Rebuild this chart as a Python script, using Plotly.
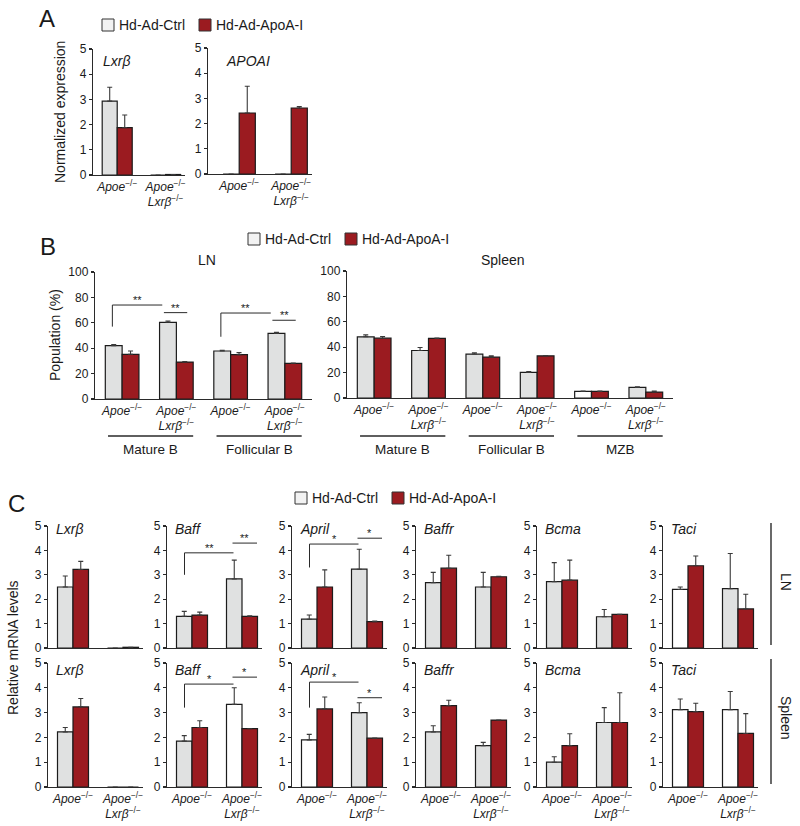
import plotly.graph_objects as go

W, H = 800, 826
RED = "#9b1b20"
GRAY = "#e0e1e1"
WHITE = "#ffffff"
EDGE = "#1c1c1c"
AX = "#2a2a2a"
TXT = "#1a1a1a"
FONT = "Liberation Sans, Arial, sans-serif"

# ---------------- data ----------------
APOE = "<i>Apoe</i><sup>−/−</sup>"
APOE_LXR = "<i>Apoe</i><sup>−/−</sup><br><i>Lxrβ</i><sup>−/−</sup>"
genotypes = [APOE, APOE_LXR]
legend_labels = ["Hd-Ad-Ctrl", "Hd-Ad-ApoA-I"]

# Panel A  (Normalized expression)
a_genes = ["<i>Lxrβ</i>", "<i>APOAI</i>"]
a_ctrl = [[2.93, 0.0], [0.0, 0.0]]
a_ctrl_err = [[0.55, 0.0], [0.0, 0.0]]
a_apoa = [[1.88, 0.02], [2.42, 2.62]]
a_apoa_err = [[0.50, 0.0], [1.06, 0.06]]

# Panel B  (Population %)
b_ln_cells = ["Mature B", "Follicular B"]
b_sp_cells = ["Mature B", "Follicular B", "MZB"]
b_ln_ctrl = [42.0, 60.4, 37.8, 51.7]
b_ln_ctrl_err = [0.8, 1.0, 0.5, 0.8]
b_ln_apoa = [35.2, 29.1, 34.9, 28.1]
b_ln_apoa_err = [2.6, 0.3, 1.6, 0.3]
b_sp_ctrl = [48.2, 37.4, 34.6, 20.2, 5.2, 8.4]
b_sp_ctrl_err = [1.5, 2.4, 1.0, 0.7, 0.2, 0.5]
b_sp_apoa = [47.1, 46.9, 32.2, 33.2, 5.2, 4.7]
b_sp_apoa_err = [1.3, 0.3, 1.0, 0.3, 0.3, 0.8]

# Panel C  (Relative mRNA levels)
c_genes = ["Lxrβ", "Baff", "April", "Baffr", "Bcma", "Taci"]
c_tissues = ["LN", "Spleen"]
c_ln_ctrl = [[2.50, 0.0], [1.30, 2.83], [1.18, 3.23], [2.68, 2.50], [2.72, 1.28], [2.40, 2.43]]
c_ln_ctrl_err = [[0.45, 0.0], [0.20, 0.77], [0.17, 0.82], [0.42, 0.60], [0.78, 0.30], [0.10, 1.44]]
c_ln_apoa = [[3.22, 0.03], [1.35, 1.30], [2.50, 1.08], [3.27, 2.92], [2.78, 1.38], [3.37, 1.60]]
c_ln_apoa_err = [[0.33, 0.0], [0.12, 0.02], [0.70, 0.02], [0.53, 0.02], [0.82, 0.0], [0.40, 0.60]]
c_sp_ctrl = [[2.22, 0.0], [1.85, 3.33], [1.90, 3.00], [2.22, 1.67], [1.00, 2.60], [3.12, 3.12]]
c_sp_ctrl_err = [[0.18, 0.0], [0.22, 0.67], [0.22, 0.40], [0.25, 0.13], [0.22, 0.60], [0.43, 0.73]]
c_sp_apoa = [[3.23, 0.0], [2.40, 2.35], [3.15, 1.97], [3.28, 2.70], [1.67, 2.60], [3.04, 2.16]]
c_sp_apoa_err = [[0.34, 0.0], [0.27, 0.0], [0.48, 0.0], [0.22, 0.0], [0.48, 1.20], [0.34, 0.80]]

# significance: (kind, group_a, group_b, level, lower_level, label)
b_ln_sig = [("between", 0, 1, 74, 57, "**"), ("within", 1, 1, 68, None, "**"),
            ("between", 2, 3, 67.7, 49, "**"), ("within", 3, 3, 62, None, "**")]
c_ln_sig = {1: [("between", 0, 1, 3.9, 3.0, "**"), ("within", 1, 1, 4.3, None, "**")],
            2: [("between", 0, 1, 4.26, 3.3, "*"), ("within", 1, 1, 4.5, None, "*")]}
c_sp_sig = {1: [("between", 0, 1, 4.15, 3.2, "*"), ("within", 1, 1, 4.43, None, "*")],
            2: [("between", 0, 1, 4.23, 3.2, "*"), ("within", 1, 1, 3.6, None, "*")]}

# ---------------- styling helpers ----------------
a_ctrl_fill = [[GRAY, GRAY], [GRAY, GRAY]]
b_ln_fill = [GRAY] * 4
b_sp_fill = [GRAY, GRAY, GRAY, GRAY, WHITE, GRAY]
c_ln_fill = [[GRAY, GRAY]] * 5 + [[WHITE, GRAY]]
c_sp_fill = [[GRAY, GRAY], [GRAY, WHITE], [WHITE, GRAY], [GRAY, GRAY], [GRAY, GRAY], [WHITE, WHITE]]

fig = go.Figure()
layout = {}
shapes = []
annotations = []


def names(k):
    return ("x", "y", "xaxis", "yaxis") if k == 1 else (f"x{k}", f"y{k}", f"xaxis{k}", f"yaxis{k}")


def add_panel(k, box, ymax, dtick, labels, xrange, ctrl, ctrl_err, apoa, apoa_err, fill,
              tsize=12, xsize=12, show_xlabels=True):
    left, right, top, bottom = box
    xn, yn, xk, yk = names(k)
    layout[xk] = dict(domain=[left / W, right / W], range=xrange, anchor=yn, showline=True,
                      linecolor=AX, linewidth=1.2, ticks="", tickmode="array",
                      tickvals=list(range(len(labels))), ticktext=labels,
                      showticklabels=show_xlabels, automargin=False,
                      tickfont=dict(size=xsize, color=TXT, family=FONT),
                      showgrid=False, zeroline=False, fixedrange=True)
    layout[yk] = dict(domain=[1 - bottom / H, 1 - top / H], range=[0, ymax], anchor=xn,
                      showline=True, linecolor=AX, linewidth=1.2, ticks="outside", ticklen=3,
                      tickwidth=1.2, tickcolor=AX, tick0=0, dtick=dtick, automargin=False,
                      tickfont=dict(size=tsize, color=TXT, family=FONT),
                      showgrid=False, zeroline=False, fixedrange=True)
    xs = list(range(len(labels)))
    for vals, errs, col, grp in ((ctrl, ctrl_err, fill, "ctrl"), (apoa, apoa_err, RED, "apoa")):
        fig.add_trace(go.Bar(
            x=xs, y=vals, xaxis=xn, yaxis=yn, offsetgroup=grp,
            marker=dict(color=col, line=dict(color=EDGE, width=1.2)),
            error_y=dict(type="data", symmetric=False, array=errs, arrayminus=[0] * len(errs),
                         color="#3a3a3a", thickness=1.1, width=2.5),
            showlegend=False, hoverinfo="skip"))
    return xn, yn


def text(x, y, s, size=14, xanchor="center", yanchor="middle", angle=0, xref="paper", yref="paper", yshift=0):
    if xref == "paper":
        x = x / W
    if yref == "paper":
        y = 1 - y / H
    annotations.append(dict(x=x, y=y, xref=xref, yref=yref, text=s, showarrow=False,
                            xanchor=xanchor, yanchor=yanchor, textangle=angle, yshift=yshift,
                            font=dict(size=size, color=TXT, family=FONT)))


def line(x0, y0, x1, y1, xref="paper", yref="paper", width=1.2):
    if xref == "paper":
        x0, x1 = x0 / W, x1 / W
    if yref == "paper":
        y0, y1 = 1 - y0 / H, 1 - y1 / H
    shapes.append(dict(type="line", x0=x0, y0=y0, x1=x1, y1=y1, xref=xref, yref=yref,
                       line=dict(color=AX, width=width)))


def legend(x, y, size=14):
    sw = 12
    fills = ["#f2f2f2", RED]
    offsets = [0, 97]
    for lab, f, off in zip(legend_labels, fills, offsets):
        x0 = x + off
        shapes.append(dict(type="rect", xref="paper", yref="paper",
                           x0=x0 / W, x1=(x0 + sw) / W, y0=1 - (y + sw / 2) / H, y1=1 - (y - sw / 2) / H,
                           fillcolor=f, line=dict(color="#333333", width=1)))
        text(x0 + sw + 3, y, lab, size=size, xanchor="left")


def add_sig(xn, yn, sigs, b_off=(-0.17, -0.2), w_off=(-0.2, 0.25), size=11):
    for kind, g0, g1, lvl, low, lab in sigs:
        if kind == "between":
            x0, x1 = g0 + b_off[0], g1 + b_off[1]
        else:
            x0, x1 = g0 + w_off[0], g1 + w_off[1]
        line(x0, lvl, x1, lvl, xref=xn, yref=yn, width=1)
        if low is not None:
            line(x0, low, x0, lvl, xref=xn, yref=yn, width=1)
        text((x0 + x1) / 2, lvl, lab, size=size, xref=xn, yref=yn, yanchor="bottom", yshift=-3)


# ---------------- Panel A ----------------
text(47, 18, "A", size=24)
legend(102, 25)
a_boxes = [(93, 185, 49, 175), (208, 312, 48, 174)]
a_ranges = [[-0.5, 1.4], [-0.6, 1.4]]
a_gene_pos = [101, 224]
k = 1
for i in range(2):
    xn, yn = add_panel(k, a_boxes[i], 5, 1, genotypes, a_ranges[i], a_ctrl[i], a_ctrl_err[i],
                       a_apoa[i], a_apoa_err[i], a_ctrl_fill[i])
    text(a_gene_pos[i], 61, a_genes[i], size=14, xanchor="left")
    k += 1
text(60, 112, "Normalized expression", size=14, angle=-90)

# ---------------- Panel B ----------------
text(48, 246, "B", size=24)
legend(248, 239)
ln_labels = genotypes * len(b_ln_cells)
sp_labels = genotypes * len(b_sp_cells)
xn, yn = add_panel(k, (95, 312, 272, 399), 100, 20, ln_labels, [-0.5, 3.5],
                   b_ln_ctrl, b_ln_ctrl_err, b_ln_apoa, b_ln_apoa_err, b_ln_fill)
k += 1
add_sig(xn, yn, b_ln_sig, b_off=(-0.18, -0.26), w_off=(-0.23, 0.2), size=11)
for g, cell in enumerate(b_ln_cells):
    line(2 * g - 0.26, 436, 2 * g + 1.31, 436, xref=xn, yref="paper", width=1.4)
    text(2 * g + 0.525, 449, cell, size=13.5, xref=xn)
text(207, 260, "LN", size=14)

xn, yn = add_panel(k, (347, 673, 271, 398), 100, 20, sp_labels, [-0.5, 5.5],
                   b_sp_ctrl, b_sp_ctrl_err, b_sp_apoa, b_sp_apoa_err, b_sp_fill)
k += 1
for g, cell in enumerate(b_sp_cells):
    line(2 * g - 0.26, 436, 2 * g + 1.31, 436, xref=xn, yref="paper", width=1.4)
    text(2 * g + 0.525, 449, cell, size=13.5, xref=xn)
text(503, 260, "Spleen", size=14)
text(55, 335, "Population (%)", size=14, angle=-90)

# ---------------- Panel C ----------------
text(16, 503, "C", size=24)
legend(295, 498)
c_lefts = [48, 167, 292, 416, 537, 663]
c_rows = [(526, 648), (663, 787)]
row_data = [(c_ln_ctrl, c_ln_ctrl_err, c_ln_apoa, c_ln_apoa_err, c_ln_fill, c_ln_sig),
            (c_sp_ctrl, c_sp_ctrl_err, c_sp_apoa, c_sp_apoa_err, c_sp_fill, c_sp_sig)]
for r, (top, bottom) in enumerate(c_rows):
    ctrl, ctrl_e, apoa, apoa_e, fill, sig = row_data[r]
    for j, gene in enumerate(c_genes):
        left = c_lefts[j]
        xn, yn = add_panel(k, (left, left + 95, top, bottom), 5, 1, genotypes, [-0.5, 1.4],
                           ctrl[j], ctrl_e[j], apoa[j], apoa_e[j], fill[j], tsize=12, xsize=12,
                           show_xlabels=(r == 1))
        k += 1
        text(left + 6, top + 3 + (4 if r == 1 else 0), f"<i>{gene}</i>", size=14, xanchor="left")
        if j in sig:
            add_sig(xn, yn, sig[j], b_off=(-0.15, -0.17), w_off=(-0.19, 0.3), size=11)

# tissue brackets on the right
line(771, 523, 771, 645, width=1.4)
line(771, 659, 771, 784, width=1.4)
text(786, 582, "LN", size=14, angle=90)
text(786, 718, "Spleen", size=14, angle=90)
text(13, 648, "Relative mRNA levels", size=14, angle=-90)

layout.update(dict(template="none", width=W, height=H, margin=dict(l=0, r=0, t=0, b=0, autoexpand=False),
                   paper_bgcolor="white", plot_bgcolor="white", barmode="group",
                   bargap=0.38, bargroupgap=0.0, showlegend=False,
                   font=dict(family=FONT, color=TXT), shapes=shapes, annotations=annotations))
fig.update_layout(**layout)
fig.write_html("out.html", config={"displayModeBar": False, "staticPlot": True},
               post_script="document.body.style.margin='0px';document.body.style.overflow='hidden';")
